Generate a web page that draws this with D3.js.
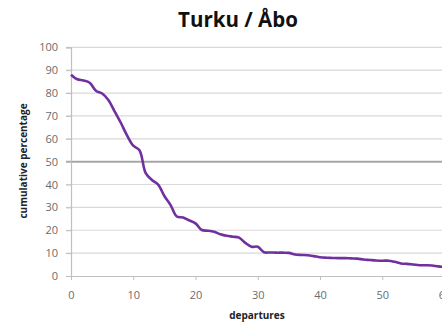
<!DOCTYPE html>
<html><head><meta charset="utf-8">
<script src="https://cdn.jsdelivr.net/npm/d3@7"></script>
<style>body{margin:0;background:#fff}svg{display:block}text{font-family:"Open Sans","Noto Sans",sans-serif}</style>
</head><body>
<script>
const title = "Turku / Åbo";
const xLabel = "departures";
const yLabel = "cumulative percentage";
const departures = d3.range(0, 61);
const cumulative = [88,86,85.5,84.5,81,79.8,77,72,67,61.5,57,55,45,42,40,35,31,26,25.6,24.3,23,20.1,19.8,19.3,18.3,17.6,17.2,16.8,14.5,12.8,12.8,10.4,10.3,10.2,10.2,10.1,9.4,9.2,9.1,8.7,8.2,8.0,7.9,7.8,7.8,7.7,7.6,7.2,7.0,6.8,6.7,6.7,6.2,5.5,5.3,5.0,4.7,4.7,4.6,4.2,4.0];
const xTicks = [0,10,20,30,40,50,60];
const yTicks = [0,10,20,30,40,50,60,70,80,90,100];

const W = 442, H = 324;
const svg = d3.select("body").append("svg").attr("width", W).attr("height", H);
const x = d3.scaleLinear().domain([0,60]).range([71, 444.5]);
const y = d3.scaleLinear().domain([0,100]).range([276, 47.3]);

// gridlines
svg.append("g").selectAll("line").data(yTicks.filter(d => d > 0)).join("line")
  .attr("x1", 66).attr("x2", W).attr("y1", d => y(d)).attr("y2", d => y(d))
  .attr("stroke", d => d === 50 ? "#a6a6a6" : "#d9d9d9")
  .attr("stroke-width", d => d === 50 ? 2 : 1.2);

// y axis
const yAxis = d3.axisLeft(y).tickValues(yTicks).tickSize(5).tickPadding(8);
const gy = svg.append("g").attr("transform", "translate(71,0)").call(yAxis);
gy.select(".domain").attr("stroke", "#bfbfbf").attr("stroke-width", 1.2);
gy.selectAll(".tick line").attr("stroke", "#bfbfbf");
gy.selectAll(".tick text").attr("fill", "#6b6b6b").style("font-size", "11px").style("font-family", "'Open Sans',sans-serif");

// x axis
const xAxis = d3.axisBottom(x).tickValues(xTicks).tickSize(4).tickPadding(11).tickSizeOuter(0);
const gx = svg.append("g").attr("transform", "translate(0,276)").call(xAxis);
gx.select(".domain").attr("stroke", "#bfbfbf").attr("stroke-width", 1.2);
gx.selectAll(".tick line").attr("stroke", "#bfbfbf");
gx.selectAll(".tick text").attr("fill", "#6b6b6b").style("font-size", "11px").style("font-family", "'Open Sans',sans-serif");

// line
const line = d3.line().x((d,i) => x(departures[i])).y(d => y(d)).curve(d3.curveCatmullRom.alpha(0.5));
svg.append("path").datum(cumulative).attr("d", line)
  .attr("fill", "none").attr("stroke", "#7030a0").attr("stroke-width", 2.6).attr("stroke-linejoin", "round");

// titles
svg.append("text").attr("x", 238).attr("y", 27).attr("text-anchor", "middle")
  .style("font-size", "20.5px").style("font-weight", "bold").attr("fill", "#111").text(title);
svg.append("text").attr("x", 257).attr("y", 319).attr("text-anchor", "middle")
  .style("font-size", "10px").style("font-weight", "bold").attr("fill", "#222").text(xLabel);
svg.append("text").attr("transform", "translate(27,161) rotate(-90)").attr("text-anchor", "middle")
  .style("font-size", "10px").style("font-weight", "bold").attr("fill", "#222").text(yLabel);
</script>
</body></html>
